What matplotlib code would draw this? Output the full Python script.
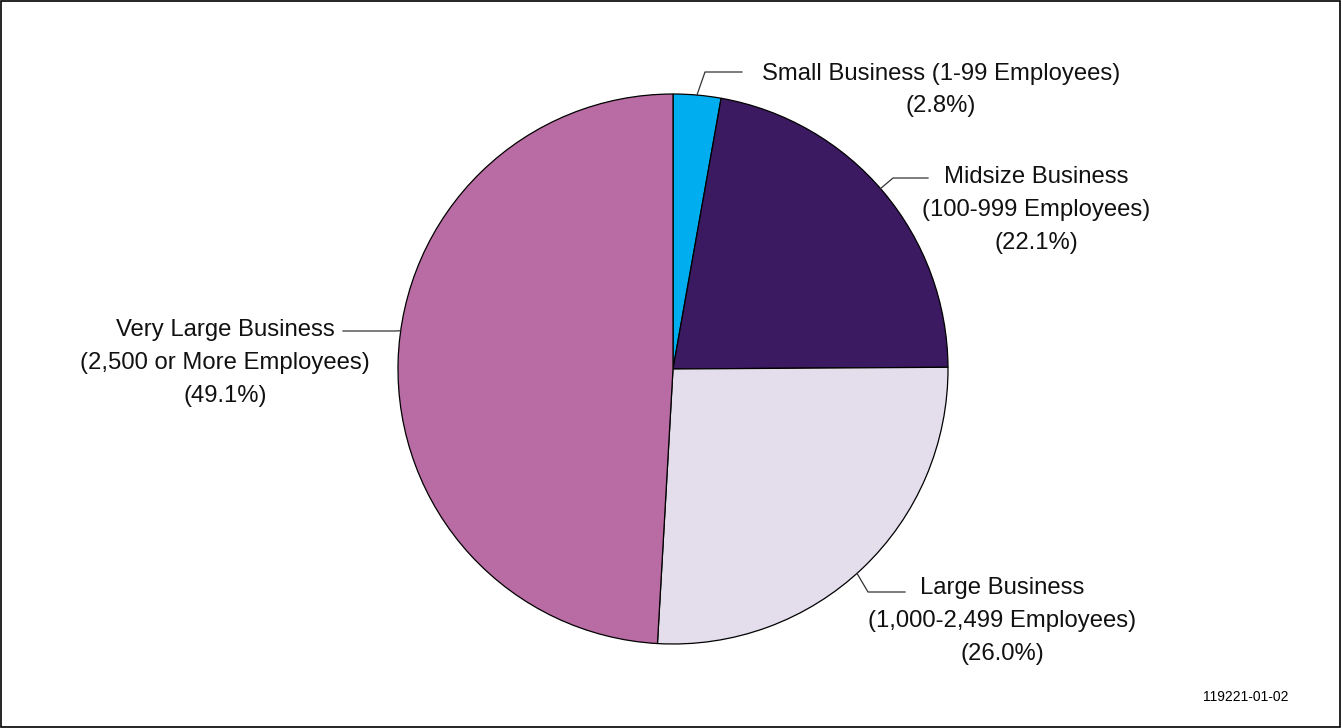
import numpy as np
import matplotlib.pyplot as plt
from matplotlib.patches import Rectangle

plt.rcParams['font.family'] = ['Liberation Sans', 'DejaVu Sans']

labels = ['Small Business (1-99 Employees)',
          'Midsize Business\n(100-999 Employees)',
          'Large Business\n(1,000-2,499 Employees)',
          'Very Large Business\n(2,500 or More Employees)']
shares = [2.8, 22.1, 26.0, 49.1]
colors = ['#00ADEF', '#3B1A62', '#E4DEEC', '#B96BA3']

# label layout in pixels: anchor angle on the rim, elbow, line end, text centre
W, H = 1342, 728
cx, cy, R = 673, 369, 275
anchor_deg = [85, 41, -48, 172]
elbows = [(705, 72), (893, 178), (868, 592), (395, 331)]
ends = [(742, 72), (928, 178), (905, 592), (343, 331)]
text_pos = [(941, 90), (1036, 210), (1002, 621), (225, 363)]


def to_data(p):
    return (p[0] - cx) / R, (cy - p[1]) / R


fig = plt.figure(figsize=(W / 100, H / 100), dpi=100)
ax = fig.add_axes([0, 0, 1, 1])
ax.pie(shares, colors=colors, startangle=90, counterclock=False, radius=1,
       wedgeprops=dict(edgecolor='black', linewidth=0.9))
ax.set_xlim(-cx / R, (W - cx) / R)
ax.set_ylim(-(H - cy) / R, cy / R)
ax.set_aspect('equal')
ax.axis('off')

for lab, val, ang, el, en, tp in zip(labels, shares, anchor_deg, elbows, ends, text_pos):
    a = np.radians(ang)
    ex, ey = to_data(el)
    nx, ny = to_data(en)
    ax.plot([np.cos(a), ex, nx], [np.sin(a), ey, ny], color='#333333', lw=0.9)
    tx, ty = to_data(tp)
    txt = lab + '\n(%.1f%%)' % val
    ax.text(tx, ty, txt, ha='center', va='center', multialignment='center',
            fontsize=17.2, linespacing=1.62, color='#111111')

fig.text(1288 / W, 1 - 697 / H, '119221-01-02', ha='right', va='center', fontsize=10)
fig.patches.append(Rectangle((0.0005, 0.001), 0.998, 0.998, transform=fig.transFigure,
                             fill=False, edgecolor='black', linewidth=1.2))
fig.savefig('out.png', dpi=100)
